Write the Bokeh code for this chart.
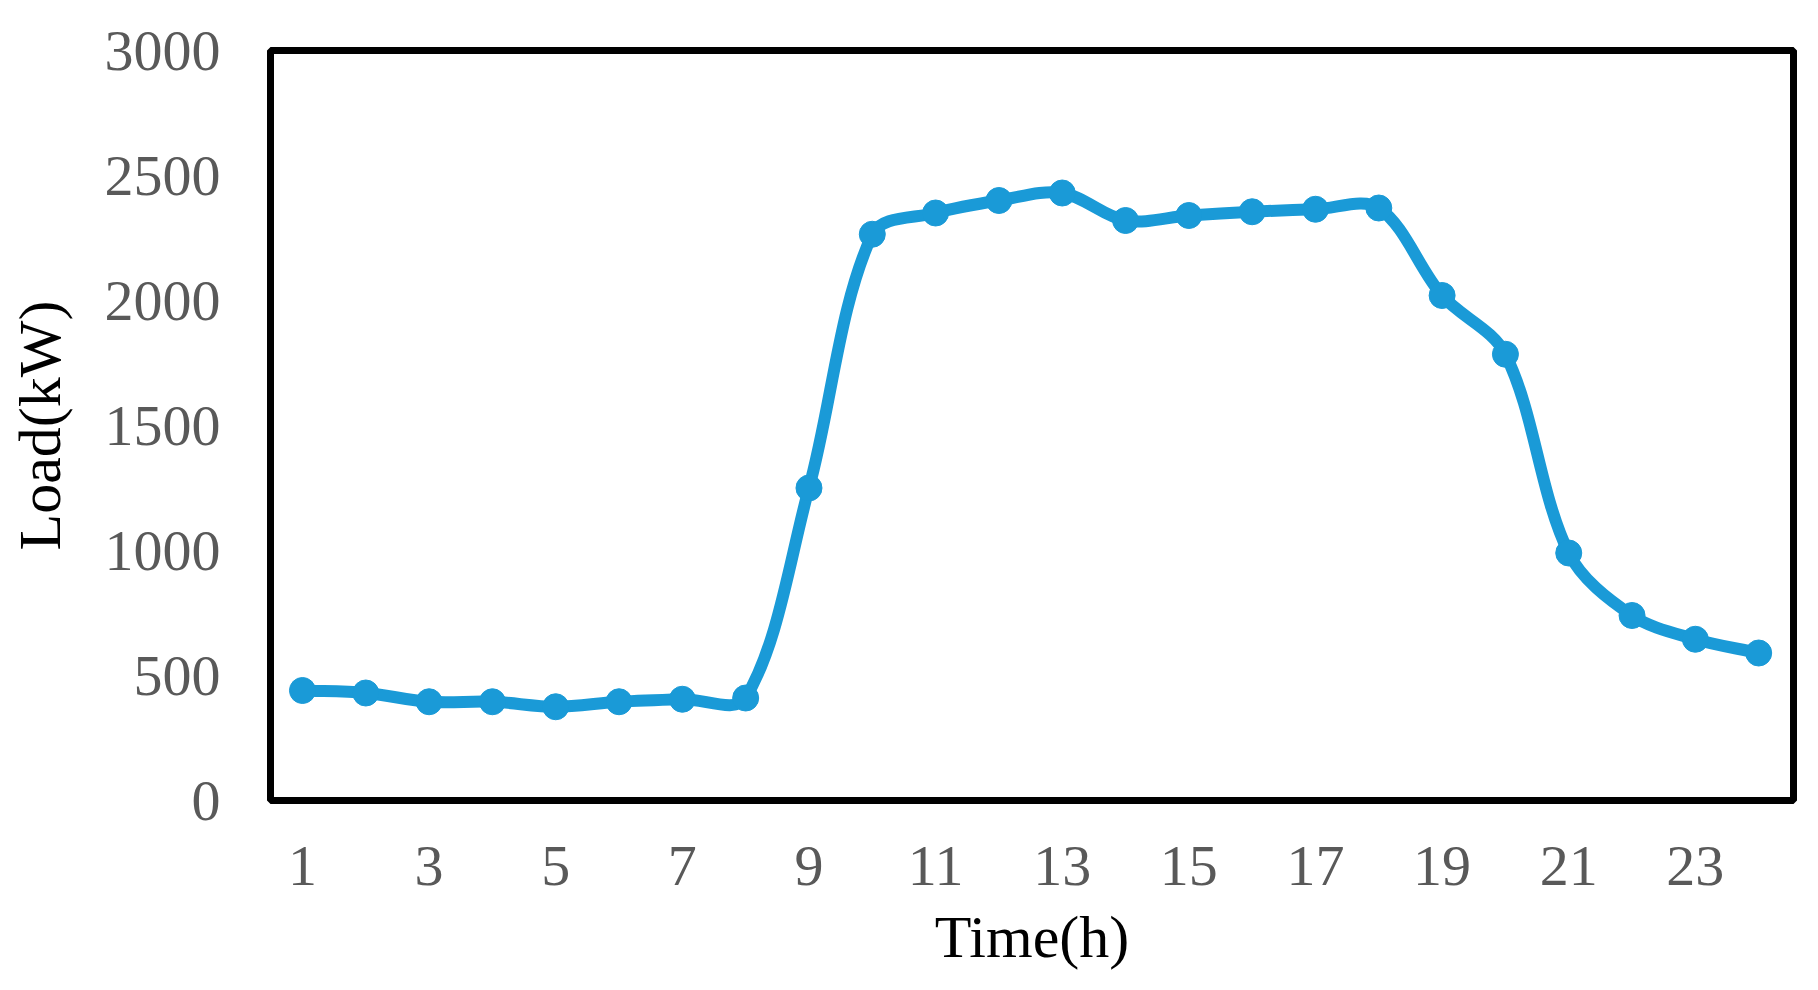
import math
from bokeh.plotting import figure
from bokeh.models import FixedTicker, Range1d
from bokeh.embed import file_html
from bokeh.resources import INLINE

# ---- data ----
hours = list(range(1, 25))
load_kw = [440, 430, 395, 395, 375, 395, 405, 410, 1250, 2265, 2350, 2400,
           2430, 2320, 2340, 2355, 2365, 2370, 2020, 1785, 990, 740, 645, 590]
x_ticks = [1, 3, 5, 7, 9, 11, 13, 15, 17, 19, 21, 23]
y_ticks = [0, 500, 1000, 1500, 2000, 2500, 3000]
x_title = "Time(h)"
y_title = "Load(kW)"

LINE = "#1A9AD7"
TICK_COLOR = "#595959"
SERIF = "Liberation Serif"

W, H = 1800, 974
ML, MR, MT, MB = 270, 7, 50, 174
X0, X1, Y0, Y1 = 0.495, 24.55, 0, 3000

p = figure(width=W, height=H, output_backend="svg", toolbar_location=None,
           x_range=Range1d(X0, X1), y_range=Range1d(Y0, Y1),
           min_border_left=ML, min_border_right=MR,
           min_border_top=MT, min_border_bottom=MB)
p.background_fill_color = "white"
p.border_fill_color = "white"
p.outline_line_color = "black"
p.outline_line_width = 7
p.xgrid.visible = False
p.ygrid.visible = False

# smoothed line (Excel-like smoothing) via bezier segments in data space
fw = W - ML - MR
fh = H - MT - MB
sx = fw / (X1 - X0)
sy = fh / (Y1 - Y0)
pts = list(zip(hours, load_kw))
n = len(pts)

def dist(a, b):
    return math.hypot((a[0] - b[0]) * sx, (a[1] - b[1]) * sy)

x0s, y0s, x1s, y1s, cx0, cy0, cx1, cy1 = [], [], [], [], [], [], [], []
for i in range(n - 1):
    P0 = pts[i - 1] if i > 0 else pts[i]
    P1 = pts[i]
    P2 = pts[i + 1]
    P3 = pts[i + 2] if i + 2 < n else pts[i + 1]
    d01, d12, d23 = dist(P0, P1), dist(P1, P2), dist(P2, P3)
    f1 = d12 / (d01 + d12) / 3.0 if d01 + d12 > 0 else 0
    f2 = d12 / (d12 + d23) / 3.0 if d12 + d23 > 0 else 0
    x0s.append(P1[0]); y0s.append(P1[1])
    x1s.append(P2[0]); y1s.append(P2[1])
    cx0.append(P1[0] + (P2[0] - P0[0]) * f1)
    cy0.append(P1[1] + (P2[1] - P0[1]) * f1)
    cx1.append(P2[0] - (P3[0] - P1[0]) * f2)
    cy1.append(P2[1] - (P3[1] - P1[1]) * f2)

p.bezier(x0=x0s, y0=y0s, x1=x1s, y1=y1s, cx0=cx0, cy0=cy0, cx1=cx1, cy1=cy1,
         line_color=LINE, line_width=12, line_cap="round")
p.scatter(hours, load_kw, size=26, marker="circle", fill_color=LINE, line_color=LINE)

# axes
for ax in (p.xaxis[0], p.yaxis[0]):
    ax.axis_line_color = None
    ax.major_tick_line_color = None
    ax.minor_tick_line_color = None
    ax.major_tick_out = 0
    ax.major_tick_in = 0
    ax.major_label_text_font = SERIF
    ax.major_label_text_font_size = "58px"
    ax.major_label_text_color = TICK_COLOR
    ax.axis_label_text_font = SERIF
    ax.axis_label_text_font_style = "normal"
    ax.axis_label_text_color = "black"

p.xaxis.ticker = FixedTicker(ticks=x_ticks)
p.yaxis.ticker = FixedTicker(ticks=y_ticks)
p.xaxis.major_label_standoff = 46
p.yaxis.major_label_standoff = 50
p.xaxis.axis_label = x_title
p.yaxis.axis_label = y_title
p.xaxis.axis_label_text_font_size = "60px"
p.yaxis.axis_label_text_font_size = "60px"
p.xaxis.axis_label_standoff = 16
p.yaxis.axis_label_standoff = 29

open("out.html", "w").write(file_html(p, INLINE))
